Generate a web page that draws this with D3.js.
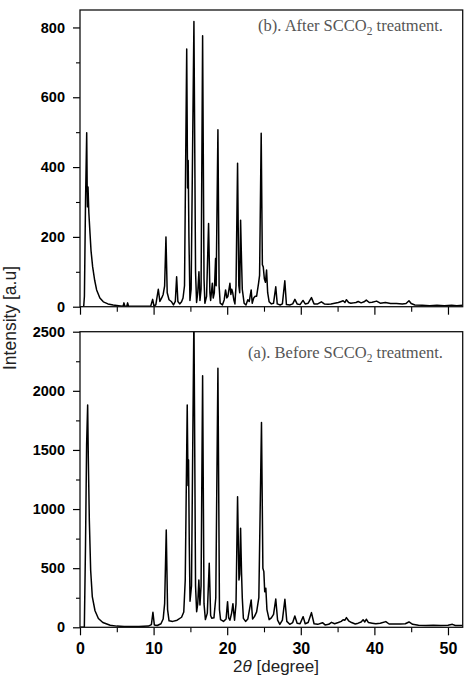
<!DOCTYPE html>
<html><head><meta charset="utf-8">
<script src="https://cdn.jsdelivr.net/npm/d3@7"></script>
<style>
html,body{margin:0;padding:0;background:#fff;}
svg{display:block;}
</style></head>
<body>
<script>
// ---------- data (2θ in degrees, intensity a.u.) ----------
const afterTheta = [0.0,0.5,0.6,0.75,0.91,0.98,1.02,1.09,1.2,1.36,1.5,1.72,2.0,2.26,2.7,3.17,3.8,4.5,5.5,5.85,5.97,6.1,6.35,6.47,6.6,9.6,9.87,10.05,10.3,10.64,10.85,11.1,11.3,11.5,11.68,11.85,12.1,12.4,12.7,12.95,13.13,13.3,13.55,13.8,14.0,14.2,14.5,14.62,14.7,14.8,14.94,15.1,15.48,15.7,15.84,16.0,16.16,16.3,16.45,16.66,16.85,16.97,17.2,17.47,17.65,17.75,17.98,18.1,18.25,18.42,18.5,18.74,18.9,19.05,19.35,19.6,19.78,19.95,20.1,20.37,20.5,20.62,20.75,20.9,21.05,21.2,21.41,21.58,21.7,21.82,21.95,22.05,22.3,22.55,22.8,23.0,23.26,23.4,23.6,23.8,24.0,24.26,24.4,24.62,24.78,24.9,25.05,25.2,25.35,25.5,25.7,26.0,26.3,26.6,26.8,27.2,27.5,27.83,28.05,28.5,28.9,29.2,29.5,29.9,30.3,30.6,31.0,31.45,31.8,32.3,32.8,33.2,33.7,34.1,34.6,35.1,35.5,35.75,36.0,36.2,36.5,36.8,37.2,37.5,37.8,38.2,38.6,38.9,39.3,39.7,40.3,40.8,41.5,42.2,43.0,43.8,44.3,44.7,45.0,45.5,46.5,47.5,48.5,49.5,50.5,51.2,52.0];
const afterIntensity = [0,0,30,300,498,330,286,343,270,210,160,114,75,48,25,14,8,5,2,1,11,1,1,11,1,1,21,2,5,50,15,25,35,60,200,40,20,15,5,15,86,15,8,14,25,60,738,340,419,200,18,50,817,100,12,40,100,18,50,776,80,10,30,238,40,18,67,25,40,138,60,507,60,10,5,20,48,25,30,67,35,50,40,20,8,60,411,60,40,248,130,50,10,5,20,15,48,10,25,30,30,67,90,497,120,114,80,70,105,40,14,8,10,57,8,5,8,74,6,5,8,21,8,6,18,8,10,26,8,8,14,8,7,8,10,12,15,17,12,20,12,10,11,12,15,11,14,19,12,13,16,10,12,9,9,8,9,17,9,5,4,3,4,3,4,3,4];

const beforeTheta = [0.0,0.5,0.59,0.75,0.9,1.04,1.13,1.27,1.45,1.67,2.04,2.5,3.1,4.1,5.0,6.0,8.0,9.3,9.7,9.91,10.1,10.5,11.0,11.3,11.5,11.72,11.9,12.1,12.6,13.2,13.8,14.1,14.3,14.57,14.68,14.75,14.85,14.95,15.15,15.48,15.7,15.85,16.0,16.15,16.3,16.45,16.66,16.85,17.04,17.3,17.56,17.75,17.9,18.2,18.45,18.74,18.95,19.1,19.5,19.85,20.05,20.2,20.37,20.6,20.78,20.85,21.0,21.2,21.41,21.6,21.7,21.82,21.95,22.05,22.2,22.5,22.8,23.26,23.45,23.7,24.0,24.3,24.66,24.85,24.98,25.1,25.25,25.4,25.7,26.0,26.3,26.6,26.85,27.15,27.5,27.84,28.1,28.5,28.9,29.19,29.5,29.9,30.32,30.6,31.0,31.45,31.8,32.3,32.95,33.3,33.8,34.17,34.6,35.1,35.5,35.75,36.0,36.2,36.5,36.9,37.4,37.8,38.2,38.47,38.7,38.9,39.2,39.7,40.2,40.8,41.55,42.0,42.8,43.5,44.2,44.7,45.2,46.0,47.0,48.0,49.0,50.0,50.6,51.0,52.0];
const beforeIntensity = [0,0,0,700,1550,1880,1429,900,480,260,140,75,40,18,10,6,6,10,22,127,20,15,30,70,200,823,150,55,50,60,85,130,400,1880,1200,1415,700,220,350,2650,350,132,200,400,189,350,2128,200,65,120,541,100,76,80,250,2190,150,65,50,70,217,80,60,120,200,150,60,200,1105,400,450,837,456,250,76,50,70,231,70,90,130,250,1733,500,471,300,330,150,65,80,110,239,60,25,60,237,50,25,40,96,35,30,90,30,40,124,30,25,39,20,25,42,30,40,50,64,60,82,55,40,28,35,45,64,45,68,40,35,30,35,48,28,28,27,30,45,25,17,15,17,15,18,25,15,15];

const xTicks = [0,10,20,30,40,50];
const xMinorTicks = [5,15,25,35,45];
const topYTicks = [0,200,400,600,800];
const topYMinorTicks = [100,300,500,700];
const botYTicks = [0,500,1000,1500,2000,2500];
const botYMinorTicks = [250,750,1250,1750,2250];
const labelAfter = ["(b). After SCCO", "2", " treatment."];
const labelBefore = ["(a). Before SCCO", "2", " treatment."];

// ---------- layout ----------
const W = 471, H = 683;
const L = 80, R = 462.7;
const topPanel = {t: 10, b: 306.7, max: 850};
const botPanel = {t: 331.7, b: 627.3, max: 2500};

const svg = d3.select("body").append("svg").attr("width", W).attr("height", H);
const x = d3.scaleLinear().domain([0, 52]).range([L, R]);
const yTop = d3.scaleLinear().domain([0, topPanel.max]).range([topPanel.b, topPanel.t]);
const yBot = d3.scaleLinear().domain([0, botPanel.max]).range([botPanel.b, botPanel.t]);

const tickFont = "'Liberation Sans', Arial, sans-serif";

function panel(id, yScale, p, thetas, vals, yT, yM, showXLabels, label, labelBaseline) {
  const g = svg.append("g");
  g.append("clipPath").attr("id", id).append("rect")
    .attr("x", L).attr("y", p.t).attr("width", R - L).attr("height", p.b - p.t);
  const data = thetas.map((t, i) => [t, vals[i]]);
  const line = d3.line().x(d => x(d[0])).y(d => yScale(d[1]));
  g.append("path").datum(data).attr("d", line)
    .attr("clip-path", `url(#${id})`)
    .attr("fill", "none").attr("stroke", "#000").attr("stroke-width", 1.5)
    .attr("stroke-linejoin", "round");

  // y axis major
  const ya = g.append("g").attr("transform", `translate(${L},0)`)
    .call(d3.axisLeft(yScale).tickValues(yT).tickSize(7).tickPadding(8).tickFormat(d3.format("d")));
  ya.select(".domain").remove();
  ya.selectAll("line").attr("stroke", "#000").attr("stroke-width", 1.2);
  ya.selectAll("text").attr("font-family", tickFont).attr("font-weight", "bold")
    .attr("font-size", 14.5).attr("fill", "#000");
  const ym = g.append("g").attr("transform", `translate(${L},0)`)
    .call(d3.axisLeft(yScale).tickValues(yM).tickSize(4).tickFormat(""));
  ym.select(".domain").remove();
  ym.selectAll("line").attr("stroke", "#000").attr("stroke-width", 1.1);

  // x axis
  const xa = g.append("g").attr("transform", `translate(0,${p.b})`)
    .call(d3.axisBottom(x).tickValues(xTicks).tickSize(8).tickPadding(7)
      .tickFormat(showXLabels ? d3.format("d") : ""));
  xa.select(".domain").remove();
  xa.selectAll("line").attr("stroke", "#000").attr("stroke-width", 1.2);
  xa.selectAll("text").attr("font-family", tickFont).attr("font-weight", "bold")
    .attr("font-size", 16).attr("fill", "#000");
  const xm = g.append("g").attr("transform", `translate(0,${p.b})`)
    .call(d3.axisBottom(x).tickValues(xMinorTicks).tickSize(5).tickFormat(""));
  xm.select(".domain").remove();
  xm.selectAll("line").attr("stroke", "#000").attr("stroke-width", 1.1);

  // frame
  g.append("rect").attr("x", L).attr("y", p.t).attr("width", R - L).attr("height", p.b - p.t)
    .attr("fill", "none").attr("stroke", "#111").attr("stroke-width", 1.3);

  // annotation
  const t = g.append("text").attr("x", 443).attr("y", labelBaseline)
    .attr("text-anchor", "end").attr("font-family", "'Liberation Serif', 'Times New Roman', serif")
    .attr("font-size", 16.5).attr("fill", "#555");
  t.append("tspan").text(label[0]);
  t.append("tspan").attr("font-size", 11.5).attr("dy", 4).text(label[1]);
  t.append("tspan").attr("dy", -4).text(label[2]);
}

panel("clipTop", yTop, topPanel, afterTheta, afterIntensity, topYTicks, topYMinorTicks, false, labelAfter, 31);
panel("clipBot", yBot, botPanel, beforeTheta, beforeIntensity, botYTicks, botYMinorTicks, true, labelBefore, 357.5);

// axis titles
const xt = svg.append("text").attr("x", 276).attr("y", 672).attr("text-anchor", "middle")
  .attr("font-family", tickFont).attr("font-size", 17).attr("fill", "#222");
xt.append("tspan").text("2");
xt.append("tspan").attr("font-style", "italic").text("θ");
xt.append("tspan").text(" [degree]");

svg.append("text").attr("transform", "translate(16,318) rotate(-90)")
  .attr("text-anchor", "middle").attr("font-family", tickFont).attr("font-size", 17.5)
  .attr("fill", "#222").text("Intensity [a.u]");
</script>
</body></html>
